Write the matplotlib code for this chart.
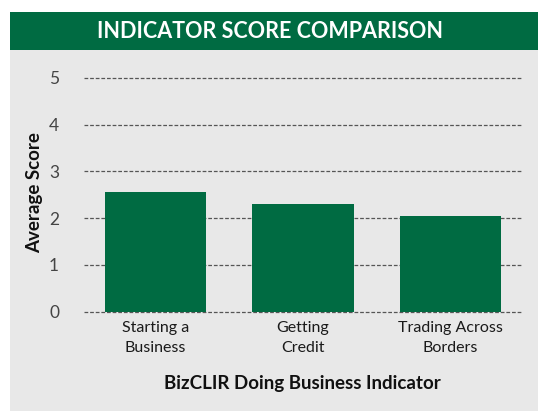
import matplotlib.pyplot as plt
from matplotlib.patches import Rectangle

categories = ['Starting a\nBusiness', 'Getting\nCredit', 'Trading Across\nBorders']
scores = [2.56, 2.31, 2.05]
y_ticks = [0, 1, 2, 3, 4, 5]
tick_labels = ['0', '1', '2', '3', '4', '5']

green = '#006B42'
grey = '#E8E8E8'

plt.rcParams['font.family'] = ['Lato', 'DejaVu Sans']

fig = plt.figure(figsize=(5.38, 4.11), dpi=100)
W, H = 538, 411

# background panel and header band
fig.patches.append(Rectangle((10 / W, 0), 1 - 10 / W, 1 - 50 / H, transform=fig.transFigure,
                             facecolor=grey, edgecolor='none', zorder=-5))
fig.patches.append(Rectangle((10 / W, 1 - 50 / H), 1 - 10 / W, 38 / H, transform=fig.transFigure,
                             facecolor=green, edgecolor='none', zorder=-5))
fig.text(270 / W, 1 - 31 / H, 'INDICATOR SCORE COMPARISON', color='white', fontsize=15.5,
         fontweight='bold', ha='center', va='center')

ax = fig.add_axes([84 / W, 1 - 311.7 / H, 438 / W, 233.7 / H])
ax.set_facecolor('none')
x = list(range(len(categories)))
ax.bar(x, scores, width=0.685, color=green, zorder=3)
ax.set_xlim(-0.485, 2.485)
ax.set_ylim(0, 5)
ax.set_yticks(y_ticks)
ax.set_yticklabels(tick_labels, fontsize=12.5, color='#444444')
ax.set_xticks(x)
ax.set_xticklabels(categories, fontsize=11.5, color='#1a1a1a', linespacing=1.55)
ax.tick_params(axis='both', length=0)
ax.tick_params(axis='y', pad=18)
ax.tick_params(axis='x', pad=7)
for v in y_ticks:
    ax.axhline(v, color='#555555', linestyle=(0, (3, 1.5)), linewidth=0.9, zorder=1, clip_on=False)
for s in ax.spines.values():
    s.set_visible(False)

fig.text(35 / W, 1 - 193 / H, 'Average Score', rotation=90, fontsize=13.5, fontweight='bold',
         ha='center', va='center', color='#111111')
fig.text(302 / W, 1 - 383 / H, 'BizCLIR Doing Business Indicator', fontsize=13.5,
         fontweight='bold', ha='center', va='center', color='#111111')

fig.savefig('out.png', dpi=100)
